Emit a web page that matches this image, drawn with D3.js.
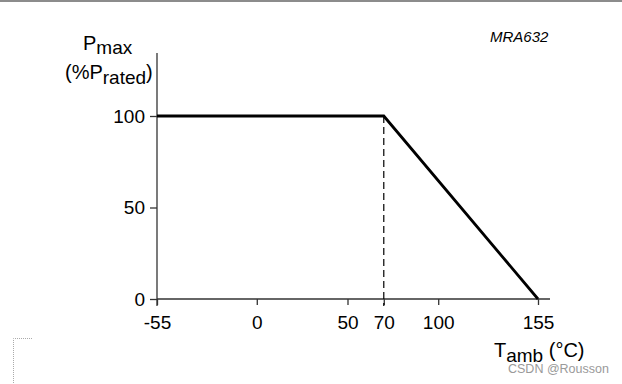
<!DOCTYPE html>
<html>
<head>
<meta charset="utf-8">
<script src="https://cdn.jsdelivr.net/npm/d3@7"></script>
<style>
  body { margin: 0; background: #fff; }
  svg { display: block; font-family: "Liberation Sans", Arial, sans-serif; }
</style>
</head>
<body>
<svg id="chart" width="622" height="384"></svg>
<script>
// derating curve: ambient temperature vs max power (% of rated)
const temps = [-55, 70, 155];
const power = [100, 100, 0];
const xTicks = [-55, 0, 50, 70, 100, 155];
const yTicks = [0, 50, 100];
const kneeTemp = 70;

const svg = d3.select("#chart");
const width = 622, height = 384;

// top border of the page capture
svg.append("line")
  .attr("x1", 0).attr("x2", width)
  .attr("y1", 1).attr("y2", 1)
  .attr("stroke", "#8c8c8c").attr("stroke-width", 2);

const x = d3.scaleLinear().domain([-55, 155]).range([157, 538]);
const y = d3.scaleLinear().domain([0, 100]).range([299, 116]);

const axisColor = "#333";

// x axis
const gx = svg.append("g")
  .attr("transform", `translate(0,${y(0)})`)
  .call(d3.axisBottom(x).tickValues(xTicks).tickSize(6).tickSizeOuter(0).tickPadding(11)
    .tickFormat(d => String(d)));
gx.select(".domain").remove();
gx.selectAll(".tick line").attr("stroke", axisColor).attr("stroke-width", 1.3);
gx.selectAll(".tick text").attr("font-size", 19).attr("fill", "#000")
  .attr("font-family", "Liberation Sans, Arial, sans-serif");

// y axis
const gy = svg.append("g")
  .attr("transform", `translate(${x(-55)},0)`)
  .call(d3.axisLeft(y).tickValues(yTicks).tickSize(7).tickSizeOuter(0).tickPadding(5));
gy.select(".domain").remove();
gy.selectAll(".tick line").attr("stroke", axisColor).attr("stroke-width", 1.3);
gy.selectAll(".tick text").attr("font-size", 19).attr("fill", "#000")
  .attr("font-family", "Liberation Sans, Arial, sans-serif");

// axis lines (extend past the data range as in the datasheet drawing)
svg.append("line")
  .attr("x1", x(-55)).attr("x2", 550)
  .attr("y1", y(0)).attr("y2", y(0))
  .attr("stroke", axisColor).attr("stroke-width", 1.3);
svg.append("line")
  .attr("x1", x(-55)).attr("x2", x(-55))
  .attr("y1", 53).attr("y2", y(0) + 7)
  .attr("stroke", axisColor).attr("stroke-width", 1.3);

// dashed marker at knee
svg.append("line")
  .attr("x1", x(kneeTemp)).attr("x2", x(kneeTemp))
  .attr("y1", y(100)).attr("y2", y(0) + 7)
  .attr("stroke", "#000").attr("stroke-width", 1.2)
  .attr("stroke-dasharray", "7,4");

// derating line
const line = d3.line().x((d, i) => x(temps[i])).y(d => y(d));
svg.append("path")
  .datum(power)
  .attr("d", line)
  .attr("fill", "none")
  .attr("stroke", "#000")
  .attr("stroke-width", 2.8)
  .attr("stroke-linejoin", "miter");

// y title
const yt1 = svg.append("text").attr("x", 83).attr("y", 50).attr("font-size", 20).attr("fill", "#000");
yt1.append("tspan").text("P");
yt1.append("tspan").attr("dy", 4).attr("font-size", 19).text("max");
const yt2 = svg.append("text").attr("x", 65).attr("y", 79).attr("font-size", 20).attr("fill", "#000");
yt2.append("tspan").text("(%P");
yt2.append("tspan").attr("dy", 5).attr("font-size", 19).text("rated");
yt2.append("tspan").attr("dy", -5).text(")");

// x title
const xt = svg.append("text").attr("x", 494).attr("y", 357).attr("font-size", 20).attr("fill", "#000");
xt.append("tspan").text("T");
xt.append("tspan").attr("dy", 5).attr("font-size", 19).text("amb");
xt.append("tspan").attr("dy", -5).text(" (°C)");

// figure code
svg.append("text").attr("x", 490).attr("y", 42)
  .attr("font-size", 15).attr("font-style", "italic").attr("fill", "#000")
  .text("MRA632");

// watermark
svg.append("text").attr("x", 508).attr("y", 373)
  .attr("font-size", 12.5).attr("fill", "#9a9a9a")
  .text("CSDN @Rousson");

// dotted corner bottom-left
svg.append("path")
  .attr("d", "M32,338.5 H13.5 V384")
  .attr("fill", "none").attr("stroke", "#aaa").attr("stroke-width", 1)
  .attr("stroke-dasharray", "1,1");
</script>
</body>
</html>
